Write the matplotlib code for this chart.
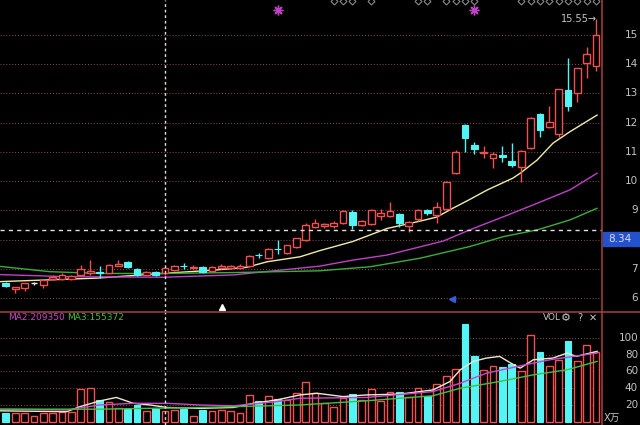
import matplotlib
matplotlib.use('Agg')
import matplotlib.pyplot as plt
from matplotlib import transforms
from matplotlib.lines import Line2D
from matplotlib.patches import Rectangle

# daily candles (64 sessions)
opens = [6.52, 6.31, 6.33, 6.50, 6.45, 6.64, 6.66, 6.65, 6.78, 6.84,
         6.88, 6.87, 7.10, 7.24, 6.98, 6.80, 6.89, 6.87, 6.96, 7.10,
         7.03, 7.05, 6.93, 7.03, 7.02, 7.04, 7.08, 7.48, 7.36, 7.68,
         7.53, 7.73, 7.98, 8.42, 8.45, 8.47, 8.56, 8.95, 8.50, 8.53,
         8.80, 8.82, 8.87, 8.46, 8.69, 9.01, 8.84, 9.05, 10.29, 11.92,
         11.22, 10.95, 10.78, 10.90, 10.69, 10.49, 11.14, 12.30, 11.86, 11.61,
         13.12, 13.03, 14.05, 13.94]
highs = [6.55, 6.39, 6.52, 6.55, 6.64, 6.78, 6.85, 6.80, 7.13, 7.30,
         7.09, 7.18, 7.30, 7.28, 7.02, 6.93, 6.92, 7.05, 7.12, 7.19,
         7.12, 7.08, 7.08, 7.17, 7.12, 7.15, 7.46, 7.55, 7.70, 7.98,
         7.82, 8.06, 8.55, 8.70, 8.56, 8.65, 9.02, 9.00, 8.68, 9.05,
         9.05, 9.30, 8.90, 8.65, 9.05, 9.05, 9.30, 10.00, 11.05, 11.95,
         11.33, 11.20, 11.00, 11.20, 11.29, 11.08, 12.18, 12.32, 12.57, 13.16,
         14.20, 13.88, 14.60, 15.55]
lows = [6.38, 6.18, 6.25, 6.45, 6.33, 6.60, 6.62, 6.62, 6.75, 6.80,
        6.70, 6.85, 7.08, 7.02, 6.76, 6.77, 6.76, 6.80, 6.94, 6.99,
        6.98, 6.86, 6.90, 7.00, 7.00, 7.00, 7.06, 7.38, 7.34, 7.50,
        7.50, 7.70, 7.95, 8.38, 8.40, 8.40, 8.53, 8.35, 8.45, 8.50,
        8.68, 8.78, 8.44, 8.27, 8.65, 8.85, 8.56, 9.00, 10.25, 11.01,
        10.93, 10.78, 10.44, 10.64, 10.50, 9.98, 11.10, 11.52, 11.82, 11.52,
        12.41, 12.72, 13.52, 13.78]
closes = [6.41, 6.37, 6.50, 6.50, 6.62, 6.71, 6.78, 6.76, 6.99, 6.92,
          6.86, 7.13, 7.18, 7.05, 6.79, 6.90, 6.78, 7.02, 7.09, 7.08,
          7.06, 6.90, 7.05, 7.08, 7.08, 7.08, 7.44, 7.46, 7.67, 7.66,
          7.80, 8.04, 8.50, 8.58, 8.52, 8.55, 8.99, 8.50, 8.64, 9.01,
          8.92, 8.97, 8.56, 8.60, 9.01, 8.90, 9.12, 9.98, 11.01, 11.46,
          11.11, 11.01, 10.93, 10.84, 10.55, 11.04, 12.15, 11.75, 12.01, 13.14,
          12.57, 13.86, 14.35, 15.00]
# volume in units of 10k shares
volumes = [10, 11, 11, 7, 11, 11, 12, 12, 39, 40,
           26, 24, 16, 15, 20, 13, 15, 13, 14, 15,
           7, 14, 13, 14, 13, 10, 32, 25, 31, 27,
           26, 34, 48, 34, 22, 18, 28, 33, 26, 39,
           25, 35, 35, 29, 40, 31, 45, 55, 63, 117,
           78, 62, 67, 65, 69, 60, 103, 83, 67, 74,
           96, 72, 92, 83]

# moving averages on the price panel, read at these candle positions
ma10_x = [-0.6, 9.7, 17.2, 22.5, 25.7, 27.9, 31.4, 33.5, 37.0, 40.7,
          44.2, 46.0, 47.7, 49.5, 51.4, 54.1, 54.9, 56.7, 58.4, 60.2, 63.1]
ma10_y = [6.56, 6.68, 6.85, 6.96, 7.05, 7.24, 7.41, 7.62, 7.93, 8.38,
          8.63, 8.77, 9.07, 9.37, 9.70, 10.10, 10.27, 10.72, 11.30, 11.69, 12.26]
ma20_x = [-0.6, 6.5, 16.8, 24.3, 33.5, 37.1, 40.7, 46.7, 49.5, 53.1, 56.7, 60.2, 63.1]
ma20_y = [6.80, 6.73, 6.71, 6.79, 7.09, 7.30, 7.47, 7.95, 8.33, 8.78, 9.24, 9.70, 10.27]
ma30_x = [-0.6, 4.7, 10.1, 16.8, 24.3, 33.5, 38.9, 44.2, 49.5, 53.1, 56.7, 60.2, 63.1]
ma30_y = [7.08, 6.90, 6.84, 6.84, 6.87, 6.93, 7.07, 7.36, 7.76, 8.10, 8.33, 8.67, 9.07]

# moving averages on the volume panel
vma1_x = [-0.6, 6.5, 7.9, 10.1, 11.8, 13.6, 15.4, 17.2, 20.7, 24.3, 26.4, 28.9,
          31.4, 33.2, 36.0, 38.5, 42.1, 45.6, 47.4, 48.5, 49.9, 51.3, 52.7,
          54.2, 54.9, 56.3, 58.4, 59.9, 60.9, 63.1]
vma1_y = [13, 12, 18, 25, 29, 22, 20, 17, 16, 17, 22, 26,
          32, 34, 30, 32, 33, 38, 48, 62, 72, 76, 78,
          68, 64, 74, 76, 82, 78, 84]
vma2_x = [-0.6, 6.5, 10.0, 13.6, 17.2, 20.7, 24.3, 28.9, 31.4, 38.5, 45.6,
          48.5, 51.3, 56.3, 58.1, 63.1]
vma2_y = [15, 14, 20, 22, 22, 20, 19, 24, 28, 29, 36, 46, 58, 70, 74, 82]
vma3_x = [-0.6, 10.0, 20.7, 31.4, 38.5, 45.6, 48.5, 52.7, 56.3, 59.9, 63.1]
vma3_y = [15, 15, 17, 20, 25, 31, 40, 48, 56, 62, 72]

price_ticks = [6, 7, 8, 9, 10, 11, 12, 13, 14, 15]
vol_ticks = [20, 40, 60, 80, 100]
cross_idx = 17
cross_price = 8.34
top_marks = [35, 36, 37, 39, 44, 45, 47, 48, 49, 50,
             55, 56, 57, 58, 59, 60, 61, 62, 63]
star_marks = [29, 50]

UP = '#f05050'
DOWN = '#54f4f4'
FLAT = '#e8e8e8'
GRID = '#8a5050'
BORDER = '#9c3c3c'
LABEL = '#c4c4c4'
W = 0.72

W_PX, H_PX = 640, 425
fig = plt.figure(figsize=(6.4, 4.25), dpi=100, facecolor='black')


def fx(px):
    return px / W_PX


def fy(py):
    return 1 - py / H_PX


ax = fig.add_axes([0, fy(312), fx(602), 1 - fy(312)])
axv = fig.add_axes([0, 0, fx(602), fy(312)])
for a in (ax, axv):
    a.set_facecolor('black')
    for s in a.spines.values():
        s.set_visible(False)
    a.set_xticks([])
    a.set_yticks([])
    a.set_xlim(-0.62, 63.63)
ax.set_ylim(5.52, 16.2)
axv.set_ylim(-3.9, 131)

n = len(closes)

# grid
for p in price_ticks:
    ax.axhline(p, color=GRID, lw=0.7, ls=(0, (1, 2)), zorder=1)
for v in vol_ticks:
    axv.axhline(v, color=GRID, lw=0.7, ls=(0, (1, 2)), zorder=1)

# moving averages
ax.plot(ma10_x, ma10_y, color='#f0eca8', lw=1, zorder=2)
ax.plot(ma20_x, ma20_y, color='#c040c8', lw=1, zorder=2)
ax.plot(ma30_x, ma30_y, color='#38b038', lw=1, zorder=2)

# candles
for i in range(n):
    o, h, l, c = opens[i], highs[i], lows[i], closes[i]
    if c > o:
        col = UP
    elif c < o:
        col = DOWN
    else:
        col = FLAT
    ax.vlines(i, l, h, color=col, lw=1, zorder=3)
    if c >= o:
        ax.bar(i, max(c - o, 0.001), bottom=o, width=W, facecolor='black',
               edgecolor=col, lw=1, zorder=4)
    else:
        ax.bar(i, o - c, bottom=c, width=W, color=col, edgecolor=col,
               lw=0.8, zorder=4)

# volume bars
for i in range(n):
    if closes[i] < opens[i]:
        axv.bar(i, volumes[i], width=W, color=DOWN, edgecolor=DOWN, lw=0.8, zorder=3)
    else:
        axv.bar(i, volumes[i], width=W, facecolor='black', edgecolor=UP, lw=1, zorder=3)
axv.plot(vma1_x, vma1_y, color='#f0e8d0', lw=1, zorder=4)
axv.plot(vma2_x, vma2_y, color='#c848c8', lw=1, zorder=4)
axv.plot(vma3_x, vma3_y, color='#40c040', lw=1, zorder=4)

# crosshair
ax.axhline(cross_price, color='#e0e0e0', lw=1, ls=(0, (3, 3)), zorder=5)
ax.axvline(cross_idx, color='#e0e0e0', lw=1, ls=(0, (2, 2)), zorder=5)
axv.axvline(cross_idx, color='#e0e0e0', lw=1, ls=(0, (2, 2)), zorder=5)

# signal markers
ax.plot(top_marks, [16.17] * len(top_marks), ls='none', marker='D',
        ms=3.5, mfc='none', mec='#8a8a8a', mew=0.8, zorder=6)
ax.plot(star_marks, [15.86] * len(star_marks), ls='none', marker=(8, 2, 0),
        ms=7, mec='#c040c8', mew=1, zorder=6)
ax.plot([23.1], [5.69], ls='none', marker='^', ms=4, color='white', zorder=6)
ax.plot([47.6], [5.97], ls='none', marker='<', ms=4, color='#3a5ad8', zorder=6)
ax.text(63.1, 15.55, '15.55\u2192', color=LABEL, fontsize=7, ha='right',
        va='center', zorder=6)

# right-hand scales
tp = transforms.blended_transform_factory(fig.transFigure, ax.transData)
for p in price_ticks:
    ax.text(fx(638), p, str(p), transform=tp, color=LABEL, fontsize=7.5,
            ha='right', va='center', clip_on=False)
tv = transforms.blended_transform_factory(fig.transFigure, axv.transData)
for v in vol_ticks:
    axv.text(fx(638), v, str(v), transform=tv, color=LABEL, fontsize=7.5,
             ha='right', va='center', clip_on=False)

fig.add_artist(Rectangle((fx(603), fy(246)), fx(640) - fx(603), fy(232) - fy(246),
                         transform=fig.transFigure, color='#2452cc', zorder=5))
fig.text(fx(620), fy(239), '8.34', color='#dcdcf0', fontsize=7.5,
         ha='center', va='center', zorder=6)

# panel borders
fig.add_artist(Line2D([fx(602), fx(602)], [0, 1], transform=fig.transFigure,
                      color=BORDER, lw=1.2))
fig.add_artist(Line2D([0, 1], [fy(312), fy(312)], transform=fig.transFigure,
                      color=BORDER, lw=1.2))

# volume panel captions
fig.text(fx(8), fy(318), 'MA2:209350', color='#c848c8', fontsize=6.5, va='center')
fig.text(fx(67), fy(318), 'MA3:155372', color='#40c040', fontsize=6.5, va='center')
fig.text(fx(543), fy(318), 'VOL', color=LABEL, fontsize=6.5, va='center')
fig.text(fx(566), fy(318), '\u2699', color=LABEL, fontsize=8, ha='center', va='center')
fig.text(fx(580), fy(318), '?', color=LABEL, fontsize=7, ha='center', va='center')
fig.text(fx(593), fy(318), '\u2715', color=LABEL, fontsize=7, ha='center', va='center')
fig.text(fx(604), fy(418), 'X\u4e07', color=LABEL, fontsize=7, va='center',
         family=['DejaVu Sans', 'Noto Sans CJK SC'])

fig.savefig('out.png', dpi=100, facecolor='black')
